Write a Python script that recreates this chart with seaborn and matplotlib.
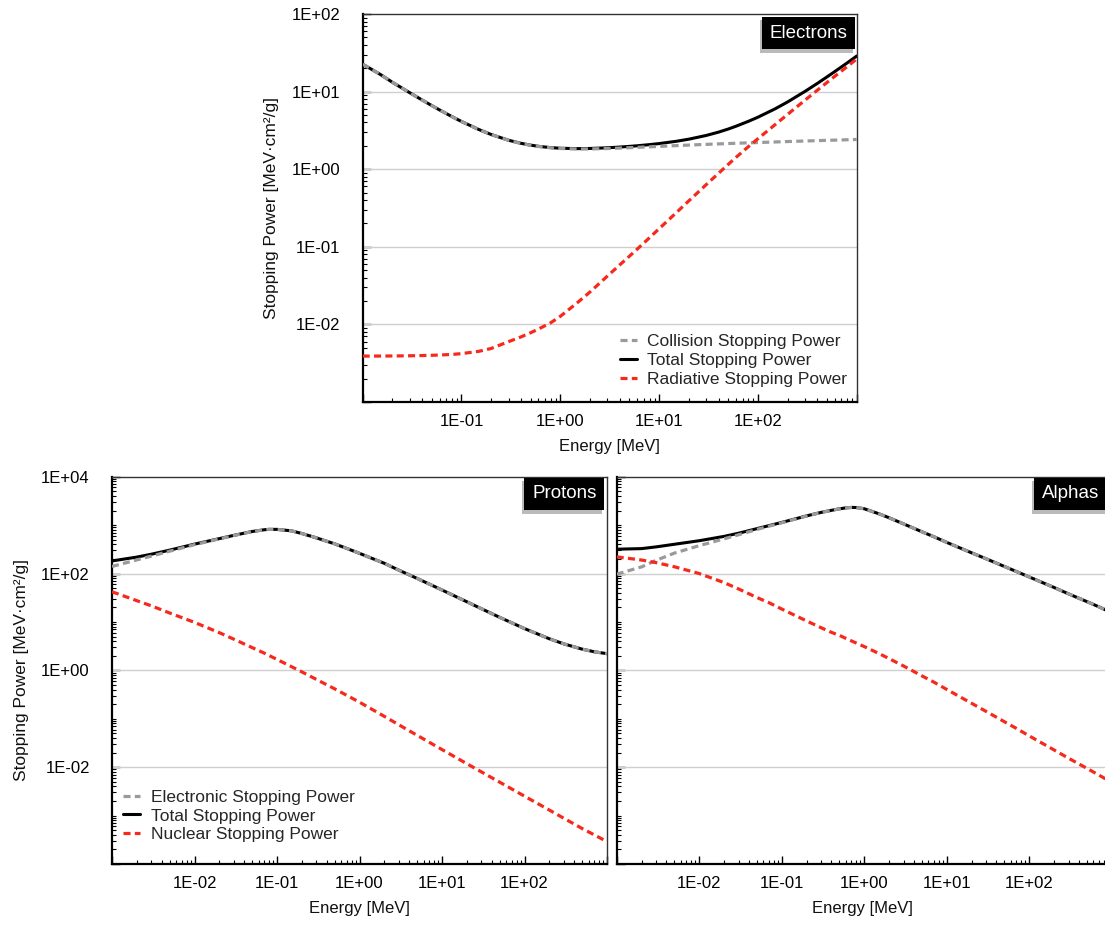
import numpy as np
import pandas as pd
import matplotlib
matplotlib.use("Agg")
import matplotlib.pyplot as plt
from matplotlib import ticker, patheffects
import seaborn as sns

# ---------------- data ----------------
# Electrons
E_e = [0.01, 0.015, 0.02, 0.03, 0.04, 0.05, 0.06, 0.08, 0.1, 0.15, 0.2, 0.3, 0.4, 0.5,
       0.6, 0.8, 1.0, 1.5, 2.0, 3.0, 4.0, 5.0, 6.0, 8.0, 10, 15, 20, 30, 40, 50, 60, 80,
       100, 150, 200, 300, 400, 500, 600, 800, 1000]
coll_e = [22.56, 16.70, 13.17, 9.653, 7.777, 6.603, 5.797, 4.757, 4.115, 3.238, 2.793,
          2.355, 2.148, 2.034, 1.963, 1.886, 1.849, 1.822, 1.824, 1.846, 1.870, 1.892,
          1.911, 1.943, 1.968, 2.014, 2.046, 2.089, 2.118, 2.141, 2.158, 2.186, 2.206,
          2.244, 2.271, 2.308, 2.334, 2.354, 2.370, 2.395, 2.415]
rad_e = [0.00390, 0.00391, 0.00392, 0.00394, 0.00397, 0.00400, 0.00403, 0.00410, 0.00420,
         0.00450, 0.00490, 0.00600, 0.00690, 0.00780, 0.00870, 0.01050, 0.0127, 0.0192,
         0.0262, 0.0420, 0.0585, 0.0755, 0.0933, 0.131, 0.171, 0.277, 0.391, 0.633,
         0.887, 1.15, 1.42, 1.95, 2.47, 3.77, 5.09, 7.76, 10.43, 13.1, 15.75, 21.0, 26.3]
total_e = [22.56, 16.70, 13.17, 9.657, 7.781, 6.607, 5.801, 4.761, 4.119, 3.243, 2.798,
           2.361, 2.155, 2.042, 1.972, 1.897, 1.862, 1.841, 1.850, 1.888, 1.929, 1.968,
           2.004, 2.074, 2.139, 2.291, 2.437, 2.722, 3.005, 3.291, 3.578, 4.136, 4.676,
           6.014, 7.361, 10.07, 12.76, 15.45, 18.12, 23.40, 28.72]

# Protons
E_p = [0.001, 0.002, 0.003, 0.005, 0.01, 0.02, 0.03, 0.05, 0.07, 0.08, 0.1, 0.15, 0.2,
       0.3, 0.5, 0.7, 1, 2, 3, 5, 10, 20, 30, 50, 100, 200, 300, 500, 700, 1000]
elec_p = [140, 191, 229, 289, 395, 520, 610, 735, 800, 815, 815, 760, 670, 545, 410, 330,
          260.8, 162.4, 117.2, 79.11, 45.67, 26.07, 18.76, 12.45, 7.29, 4.49, 3.52, 2.74,
          2.42, 2.21]
nuc_p = [42, 27.5, 21.5, 15.3, 9.8, 6.0, 4.4, 2.95, 2.27, 2.03, 1.68, 1.19, 0.93, 0.65,
         0.415, 0.305, 0.22, 0.112, 0.075, 0.0455, 0.0231, 0.0118, 0.0080, 0.0049,
         0.00252, 0.00130, 0.00088, 0.00054, 0.00040, 0.00029]
total_p = [182, 218.5, 250.5, 304.3, 404.8, 526.0, 614.4, 737.95, 802.27, 817.03, 816.68,
           761.19, 670.93, 545.65, 410.42, 330.31, 261.02, 162.51, 117.28, 79.16, 45.69,
           26.08, 18.77, 12.45, 7.292, 4.491, 3.521, 2.741, 2.420, 2.210]

# Alphas
E_a = [0.001, 0.002, 0.003, 0.005, 0.01, 0.02, 0.03, 0.05, 0.07, 0.1, 0.2, 0.3, 0.4, 0.5,
       0.6, 0.7, 0.8, 1, 1.5, 2, 3, 5, 7, 10, 20, 30, 50, 70, 100, 200, 300, 500, 700, 1000]
elec_a = [97, 137, 187, 264, 376, 520, 632, 813, 950, 1116.5, 1539.5, 1822.4, 2013.9,
          2164.7, 2265.4, 2315.9, 2306.3, 2176.9, 1717.8, 1418.3, 1058.8, 729.2, 574.4,
          439.6, 267.8, 201.9, 139.9, 109.9, 84.96, 51.48, 37.98, 26.29, 20.49, 15.50]
nuc_a = [221, 190, 168, 138, 100, 65, 48, 32, 25, 18.5, 10.5, 7.6, 6.1, 5.28, 4.57, 4.06,
         3.67, 3.1, 2.24, 1.75, 1.23, 0.77, 0.57, 0.404, 0.209, 0.142, 0.087, 0.0631,
         0.0443, 0.0227, 0.0153, 0.00946, 0.00686, 0.00486]
total_a = [318, 327, 355, 402, 476, 585, 680, 845, 975, 1135, 1550, 1830, 2020, 2170, 2270,
           2320, 2310, 2180, 1720, 1420, 1060, 730, 575, 440, 268, 202, 140, 110, 85, 51.5,
           38, 26.3, 20.5, 15.5]

labels_e = ["Collision Stopping Power", "Total Stopping Power", "Radiative Stopping Power"]
labels_p = ["Electronic Stopping Power", "Total Stopping Power", "Nuclear Stopping Power"]
panel_names = ["Electrons", "Protons", "Alphas"]

# ---------------- style ----------------
sns.set_theme(style="white")
plt.rcParams['font.family'] = ['Liberation Sans', 'DejaVu Sans']

GRAY = "#9a9a9a"
RED = "#f52a1c"
DASH = (0, (2.2, 1.35))

W, H = 1105, 927
fig = plt.figure(figsize=(W / 100, H / 100), dpi=100)
fig.patch.set_facecolor("white")


def px_axes(l, t, r, b):
    return fig.add_axes([l / W, 1 - b / H, (r - l) / W, (b - t) / H])


ax_e = px_axes(362.7, 14, 856.7, 402)
ax_p = px_axes(112, 476.7, 607, 864)
ax_a = px_axes(616.7, 476.7, 1108, 864)


def draw(ax, E, comp, total, other):
    df = pd.DataFrame({"E": E, "comp": comp, "total": total, "other": other})
    sns.lineplot(data=df, x="E", y="total", ax=ax, color="black", linewidth=2.2,
                 zorder=3, estimator=None)
    sns.lineplot(data=df, x="E", y="comp", ax=ax, color=GRAY, linewidth=2.3,
                 linestyle=DASH, zorder=4, estimator=None)
    sns.lineplot(data=df, x="E", y="other", ax=ax, color=RED, linewidth=2.3,
                 linestyle=DASH, zorder=5, estimator=None)
    lines = ax.get_lines()
    return [lines[1], lines[0], lines[2]]


h_e = draw(ax_e, E_e, coll_e, total_e, rad_e)
h_p = draw(ax_p, E_p, elec_p, total_p, nuc_p)
draw(ax_a, E_a, elec_a, total_a, nuc_a)


def label_fmt(show):
    def f(v, pos):
        if v <= 0:
            return ""
        e = int(round(np.log10(v)))
        return f"1E{e:+03d}" if e in show else ""
    return ticker.FuncFormatter(f)


def style_axes(ax, xlim, ylim, xmaj, xshow, ymaj, yshow, ygrid):
    ax.set_xscale("log")
    ax.set_yscale("log")
    ax.set_xlim(*xlim)
    ax.set_ylim(*ylim)
    ax.xaxis.set_major_locator(ticker.FixedLocator([10.0 ** k for k in xmaj]))
    ax.yaxis.set_major_locator(ticker.FixedLocator([10.0 ** k for k in ymaj]))
    ax.xaxis.set_minor_locator(ticker.LogLocator(base=10, subs=np.arange(1, 10), numticks=100))
    ax.yaxis.set_minor_locator(ticker.LogLocator(base=10, subs=np.arange(1, 10), numticks=100))
    ax.xaxis.set_major_formatter(label_fmt(xshow))
    ax.yaxis.set_major_formatter(label_fmt(yshow))
    ax.xaxis.set_minor_formatter(ticker.NullFormatter())
    ax.yaxis.set_minor_formatter(ticker.NullFormatter())
    ax.tick_params(which="both", direction="in", top=False, right=False,
                   left=True, bottom=True, colors="black", labelsize=12)
    ax.tick_params(which="major", length=6, width=1.0)
    ax.tick_params(which="minor", length=3, width=0.8)
    ax.tick_params(axis="x", which="major", pad=9)
    ax.tick_params(axis="y", which="major", pad=16)
    ax.grid(False)
    for v in ygrid:
        ax.axhline(10.0 ** v, color="#cfcfcf", linewidth=1.0, zorder=1)
    for s in ("left", "bottom"):
        ax.spines[s].set_linewidth(1.6)
        ax.spines[s].set_color("black")
    for s in ("top", "right"):
        ax.spines[s].set_linewidth(1.0)
        ax.spines[s].set_color("#333333")
    ax.set_xlabel("Energy [MeV]", fontsize=12, labelpad=7, color="#111111")


style_axes(ax_e, (1e-2, 1e3), (1e-3, 1e2), range(-2, 4), {-1, 0, 1, 2},
           range(-3, 3), {-2, -1, 0, 1, 2}, [-2, -1, 0, 1])
style_axes(ax_p, (1e-3, 1e3), (1e-4, 1e4), range(-3, 4), {-2, -1, 0, 1, 2},
           [-4, -2, 0, 2, 4], {-2, 0, 2, 4}, [-2, 0, 2])
xmax_a = 10 ** (-3 + (1108 - 616.7) / 82.5)
style_axes(ax_a, (1e-3, xmax_a), (1e-4, 1e4), range(-3, 4), {-2, -1, 0, 1, 2},
           [-4, -2, 0, 2, 4], set(), [-2, 0, 2])

ylab = "Stopping Power [MeV\u00b7cm\u00b2/g]"
ax_e.set_ylabel(ylab, fontsize=12.5, labelpad=9, color="#111111")
ax_p.set_ylabel(ylab, fontsize=12.5, labelpad=9, color="#111111")
ax_a.set_ylabel("")

# legends
ax_e.legend(h_e, labels_e, loc="center left", bbox_to_anchor=(0.52, 0.108),
            frameon=False, fontsize=12.5, handlelength=1.0, handletextpad=0.6,
            labelspacing=0.22, borderpad=0, borderaxespad=0)
ax_p.legend(h_p, labels_p, loc="center left", bbox_to_anchor=(0.022, 0.124),
            frameon=False, fontsize=12.5, handlelength=1.0, handletextpad=0.6,
            labelspacing=0.18, borderpad=0, borderaxespad=0)


# panel tags
def tag(ax, text, dx, dy):
    t = ax.annotate(text, xy=(1, 1), xycoords="axes fraction", xytext=(dx, dy),
                    textcoords="offset points", ha="right", va="top", color="white",
                    fontsize=13.5, zorder=10,
                    bbox=dict(boxstyle="square,pad=0.42", fc="black", ec="none"))
    t.get_bbox_patch().set_path_effects([
        patheffects.withSimplePatchShadow(offset=(-1.5, -2.5), shadow_rgbFace="#777777",
                                          alpha=0.5)])


tag(ax_e, panel_names[0], -6.6, -7.6)
tag(ax_p, panel_names[1], -7.6, -6.3)
tag(ax_a, panel_names[2], -6.6, -6.3)

fig.savefig("out.png", dpi=100, facecolor="white")
